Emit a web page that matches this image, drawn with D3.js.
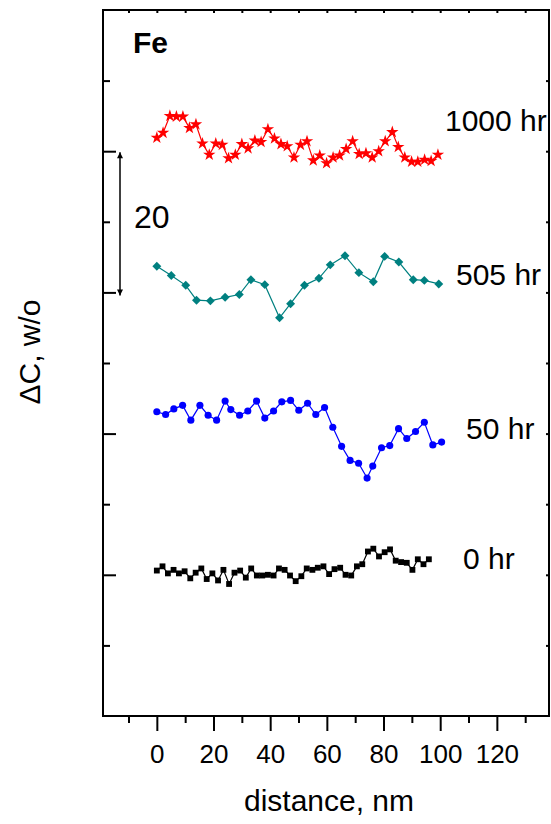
<!DOCTYPE html>
<html>
<head>
<meta charset="utf-8">
<script src="https://cdn.jsdelivr.net/npm/d3@7"></script>
<style>
    html, body { margin: 0; padding: 0; background: #fff; }
    svg { display: block; font-family: "Liberation Sans", Arial, sans-serif; }
</style>
</head>
<body>
<script>
// values (x in nm, y in w/o, series offset as plotted)
const hr0X = [0, 2.0, 3.9, 5.9, 7.8, 9.8, 11.8, 13.7, 15.7, 17.6, 19.6, 21.6, 23.5, 25.5, 27.4, 29.4, 31.4, 33.3, 35.3, 37.2,
    39.2, 41.2, 43.1, 45.1, 47.0, 49.0, 51.0, 52.9, 54.9, 56.8, 58.8, 60.8, 62.7, 64.7, 66.6, 68.6, 70.6, 72.5, 74.5, 76.4,
    78.4, 80.4, 82.3, 84.3, 86.2, 88.2, 90.2, 92.1, 94.1, 96.0];
const hr0Y = [20.6, 21.2, 20.2, 20.7, 20.2, 20.5, 19.5, 20.3, 20.9, 19.4, 20.2, 19.2, 20.7, 18.7, 20.3, 20.6, 19.6, 20.9, 19.9, 19.9,
    20.0, 19.9, 20.9, 20.7, 19.9, 19.1, 19.8, 20.9, 20.7, 21.0, 21.2, 20.1, 20.8, 21.0, 20.0, 19.9, 21.2, 21.5, 23.3, 23.7,
    22.6, 23.2, 23.6, 22.0, 21.8, 21.7, 20.7, 22.2, 21.5, 22.2];

const hr50X = [0, 3.1, 6.0, 9.1, 12.0, 15.2, 18.1, 21.1, 24.1, 26.1, 29.2, 32.1, 35.2, 38.1, 41.2, 44.1, 47.2, 50.1, 53.2, 56.1,
    59.2, 62.1, 65.2, 68.2, 71.2, 74.2, 76.2, 79.3, 82.2, 85.3, 88.2, 91.3, 94.4, 97.4, 100.5];
const hr50Y = [43.1, 42.7, 43.5, 44.0, 41.9, 44.0, 42.6, 41.9, 44.6, 43.4, 42.6, 43.2, 44.6, 42.2, 43.2, 44.5, 44.7, 43.3, 44.3, 42.7,
    43.7, 40.9, 38.2, 36.2, 35.8, 33.7, 35.4, 38.0, 38.3, 40.7, 39.3, 40.3, 41.6, 38.4, 38.8];

const hr505X = [0, 5.1, 10.2, 14.0, 18.9, 24.1, 29.1, 33.2, 38.1, 43.3, 47.2, 52.1, 57.2, 61.2, 66.4, 71.3, 76.4, 80.4, 85.4, 90.5,
    94.4, 99.5];
const hr505Y = [63.7, 62.4, 61.0, 58.9, 58.8, 59.3, 59.7, 61.8, 61.1, 56.4, 58.4, 61.0, 62.0, 63.9, 65.2, 62.8, 61.5, 65.1, 64.3, 61.8,
    61.7, 61.2];

const hr1000X = [0, 2.2, 4.6, 6.9, 9.2, 11.5, 13.8, 16.1, 18.5, 20.8, 23.1, 25.3, 27.7, 30.0, 32.2, 34.6, 36.8, 39.2, 41.5, 43.8,
    46.0, 48.4, 50.7, 53.0, 55.2, 57.5, 59.9, 62.2, 64.5, 66.8, 69.1, 71.4, 73.8, 76.0, 78.3, 80.6, 83.1, 85.2, 87.5, 89.9,
    92.1, 94.5, 96.8, 99.2];
const hr1000Y = [81.9, 82.6, 85.0, 84.9, 84.9, 83.3, 83.8, 81.1, 79.5, 81.1, 80.9, 79.0, 79.5, 81.0, 80.4, 81.5, 81.3, 83.1, 81.8, 81.0,
    80.7, 79.1, 80.9, 81.4, 78.7, 79.4, 78.3, 79.1, 79.4, 80.3, 81.4, 79.6, 79.7, 79.1, 80.0, 81.4, 82.7, 80.6, 79.1, 78.5,
    78.5, 78.8, 78.6, 79.5];

const seriesNames = ['0 hr', '50 hr', '505 hr', '1000 hr'];
const xMajorTicks = [0, 20, 40, 60, 80, 100, 120];
const xMinorTicks = [-10, 10, 30, 50, 70, 90, 110, 130];
const yMajorTicks = [20, 40, 60, 80];
const yMinorTicks = [10, 30, 50, 70, 90];
const scaleBar = [60, 80]; // the "20" arrow spans one major step
const scaleBarText = '20';

const width = 551, height = 824;
const frame = { left: 103, right: 549, top: 10, bottom: 716 };

const zip = (xs, ys) => xs.map((x, i) => ({ x, y: ys[i] }));

// diamonds in the figure are squares turned 45 degrees
const series = [
    { name: seriesNames[0], values: zip(hr0X, hr0Y), color: '#000000', symbol: d3.symbolSquare, size: 34, rot: 0, lx: 463, ly: 569 },
    { name: seriesNames[1], values: zip(hr50X, hr50Y), color: '#0000ff', symbol: d3.symbolCircle, size: 40, rot: 0, lx: 466, ly: 439 },
    { name: seriesNames[2], values: zip(hr505X, hr505Y), color: '#008080', symbol: d3.symbolSquare, size: 40, rot: 45, lx: 456, ly: 285 },
    { name: seriesNames[3], values: zip(hr1000X, hr1000Y), color: '#ff0000', symbol: d3.symbolStar, size: 48, rot: 0, lx: 445, ly: 131 }];

const x = d3.scaleLinear().domain([-19, 138.4]).range([frame.left, frame.right]);
const y = d3.scaleLinear().domain([0, 100]).range([frame.bottom, frame.top]);

const svg = d3.select('body').
    append('svg').
    attr('width', width).
    attr('height', height);

// axes: bottom has labels and outward ticks, the other three sides inward ticks
const noLabel = () => '';

const styleAxis = g => {
    g.select('.domain').remove();
    g.selectAll('.tick line').attr('stroke', '#000').attr('stroke-width', 2);
};

svg.append('g').
    attr('transform', `translate(0,${frame.bottom})`).
    call(d3.axisBottom(x).tickValues(xMinorTicks).tickSize(7).tickFormat(noLabel)).
    call(styleAxis);

svg.append('g').
    attr('transform', `translate(0,${frame.bottom})`).
    call(d3.axisBottom(x).tickValues(xMajorTicks).tickSize(15).tickPadding(14).tickFormat(d3.format('d'))).
    call(styleAxis).
    call(g => g.selectAll('.tick text').
        attr('fill', '#000').
        attr('font-size', 26).
        attr('font-family', '"Liberation Sans", Arial, sans-serif'));

svg.append('g').
    attr('transform', `translate(0,${frame.top})`).
    call(d3.axisTop(x).tickValues(xMajorTicks.concat(xMinorTicks)).tickSize(-3).tickFormat(noLabel)).
    call(styleAxis);

svg.append('g').
    attr('transform', `translate(${frame.left},0)`).
    call(d3.axisLeft(y).tickValues(yMajorTicks).tickSize(-13).tickFormat(noLabel)).
    call(styleAxis);

svg.append('g').
    attr('transform', `translate(${frame.left},0)`).
    call(d3.axisLeft(y).tickValues(yMinorTicks).tickSize(-7).tickFormat(noLabel)).
    call(styleAxis);

svg.append('g').
    attr('transform', `translate(${frame.right},0)`).
    call(d3.axisRight(y).tickValues(yMajorTicks.concat(yMinorTicks)).tickSize(-3).tickFormat(noLabel)).
    call(styleAxis);

svg.append('rect').
    attr('x', frame.left).
    attr('y', frame.top).
    attr('width', frame.right - frame.left).
    attr('height', frame.bottom - frame.top).
    attr('fill', 'none').
    attr('stroke', '#000').
    attr('stroke-width', 2);

// data lines and markers
const line = d3.line().x(d => x(d.x)).y(d => y(d.y));

const groups = svg.append('g').
    selectAll('g').
    data(series).
    enter().append('g');

groups.append('path').
    attr('d', d => line(d.values)).
    attr('fill', 'none').
    attr('stroke', d => d.color).
    attr('stroke-width', 1.2);

groups.each(function (s) {
    d3.select(this).selectAll('path.mark').
        data(s.values).
        enter().append('path').
        attr('class', 'mark').
        attr('transform', d => `translate(${x(d.x)},${y(d.y)}) rotate(${s.rot})`).
        attr('d', d3.symbol().type(s.symbol).size(s.size)).
        attr('fill', s.color);
});

groups.append('text').
    attr('x', d => d.lx).
    attr('y', d => d.ly).
    attr('font-size', 30).
    attr('fill', '#000').
    text(d => d.name);

// scale bar arrow
const defs = svg.append('defs');
defs.append('marker').
    attr('id', 'head').
    attr('viewBox', '0 0 10 10').
    attr('refX', 10).
    attr('refY', 5).
    attr('markerWidth', 10).
    attr('markerHeight', 6).
    attr('markerUnits', 'userSpaceOnUse').
    attr('orient', 'auto-start-reverse').
    append('path').
    attr('d', 'M0,0L10,5L0,10Z').
    attr('fill', '#000');

const barX = x(-13);
svg.append('line').
    attr('x1', barX).
    attr('x2', barX).
    attr('y1', y(scaleBar[1]) + 1).
    attr('y2', y(scaleBar[0]) + 3).
    attr('stroke', '#000').
    attr('stroke-width', 1.5).
    attr('marker-start', 'url(#head)').
    attr('marker-end', 'url(#head)');

svg.append('text').
    attr('x', 134).
    attr('y', 228).
    attr('font-size', 32).
    text(scaleBarText);

svg.append('text').
    attr('x', 133).
    attr('y', 53).
    attr('font-size', 30).
    attr('font-weight', 'bold').
    text('Fe');

// axis titles
svg.append('text').
    attr('x', (frame.left + frame.right) / 2 + 3).
    attr('y', 811).
    attr('text-anchor', 'middle').
    attr('font-size', 30).
    text('distance, nm');

svg.append('text').
    attr('transform', 'translate(40,352) rotate(-90)').
    attr('text-anchor', 'middle').
    attr('font-size', 30).
    text('\u0394C, w/o');
</script>
</body>
</html>
